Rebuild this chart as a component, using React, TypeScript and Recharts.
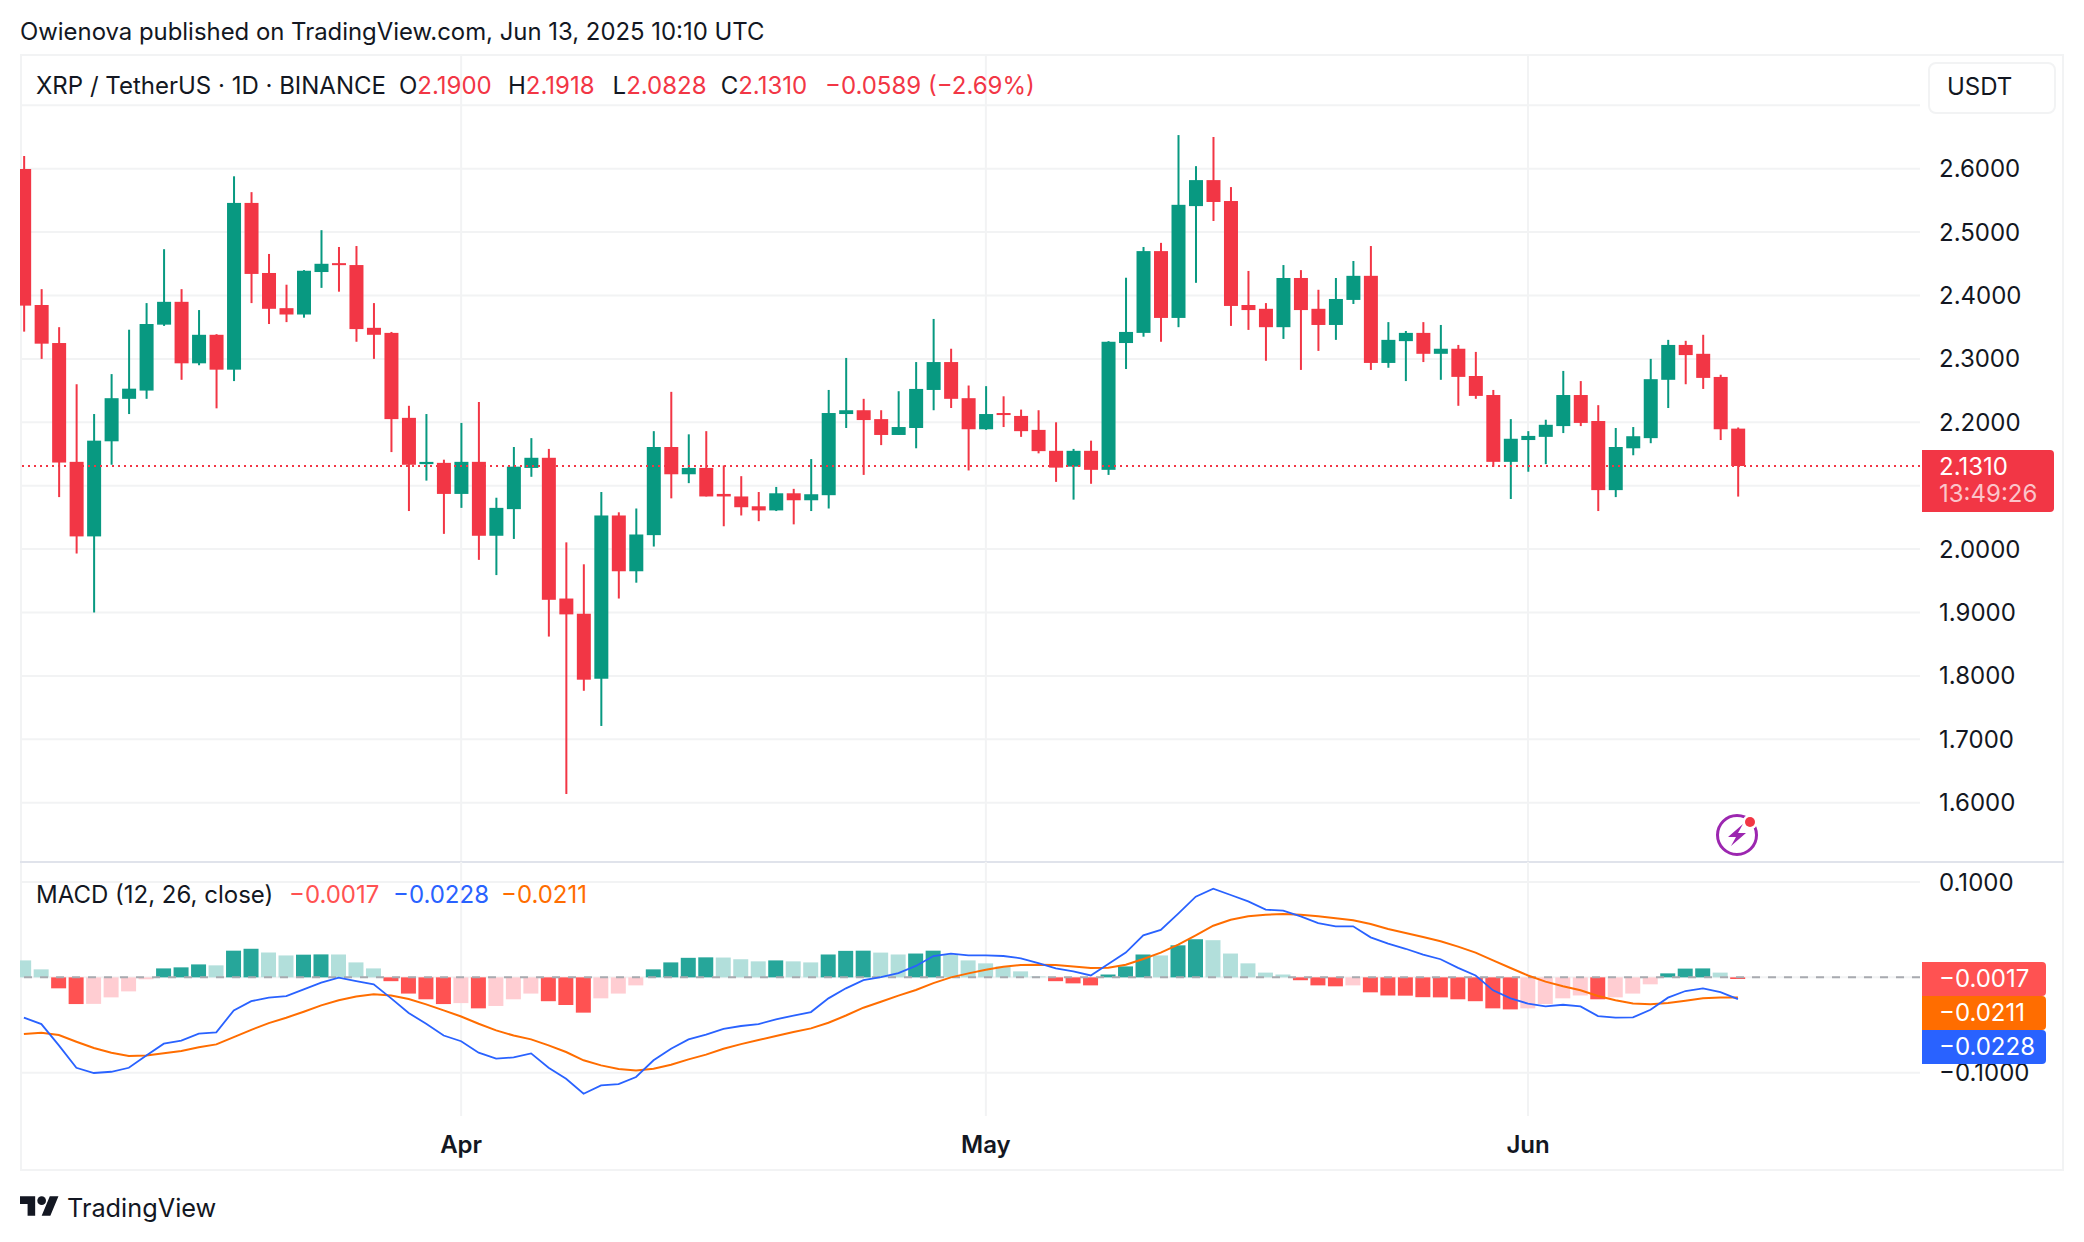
import React from "react";
import {
  Bar,
  CartesianGrid,
  Cell,
  ComposedChart,
  Line,
  ReferenceLine,
  XAxis,
  YAxis,
} from "recharts";

// daily candles, Mar 7 -> Jun 13
const opens = [
  2.5995, 2.385, 2.325, 2.1376, 2.02, 2.17, 2.237, 2.25, 2.354, 2.39, 2.293, 2.338, 2.283, 2.546, 2.4355, 2.38, 2.37, 2.437, 2.451, 2.448, 2.349, 2.341, 2.207, 2.134, 2.136,
  2.087, 2.1376, 2.021, 2.063, 2.128, 2.144, 1.922, 1.898, 1.7955, 2.053, 1.965, 2.022, 2.161, 2.118, 2.128, 2.087, 2.083, 2.0675, 2.061, 2.088, 2.077, 2.085, 2.213, 2.219, 2.205, 2.18, 2.191, 2.251, 2.295, 2.238,
  2.189, 2.2146, 2.21, 2.188, 2.155, 2.13, 2.155, 2.125, 2.325, 2.341, 2.47, 2.3646, 2.541, 2.582, 2.549, 2.385, 2.379, 2.35, 2.4276, 2.379, 2.3535, 2.393, 2.431, 2.2936, 2.328, 2.341, 2.308, 2.316, 2.273, 2.243, 2.1376,
  2.172, 2.177, 2.194, 2.243, 2.202, 2.093, 2.159, 2.175, 2.267, 2.322, 2.308, 2.2715, 2.19,
];
const highs = [
  2.62, 2.41, 2.35, 2.26, 2.213, 2.276, 2.346, 2.388, 2.473, 2.41, 2.377, 2.339, 2.588, 2.563, 2.4655, 2.417, 2.44, 2.503, 2.4765, 2.478, 2.388, 2.3425, 2.226, 2.213, 2.141,
  2.199, 2.232, 2.081, 2.161, 2.175, 2.158, 2.0106, 1.976, 2.09, 2.058, 2.064, 2.186, 2.248, 2.181, 2.186, 2.132, 2.115, 2.09, 2.098, 2.095, 2.142, 2.251, 2.3015, 2.237, 2.219, 2.249, 2.295, 2.363, 2.316, 2.258,
  2.257, 2.241, 2.22, 2.219, 2.2, 2.158, 2.171, 2.328, 2.428, 2.4765, 2.483, 2.653, 2.604, 2.65, 2.571, 2.4387, 2.388, 2.448, 2.44, 2.409, 2.4276, 2.4544, 2.478, 2.358, 2.344, 2.358, 2.3535, 2.322, 2.311, 2.251, 2.205,
  2.186, 2.204, 2.281, 2.265, 2.227, 2.191, 2.1925, 2.3, 2.33, 2.3285, 2.338, 2.275, 2.1918,
];
const lows = [
  2.343, 2.3, 2.082, 1.993, 1.9, 2.133, 2.213, 2.237, 2.352, 2.267, 2.29, 2.222, 2.265, 2.388, 2.355, 2.358, 2.365, 2.412, 2.406, 2.327, 2.3, 2.153, 2.06, 2.108, 2.024,
  2.065, 1.983, 1.959, 2.016, 2.114, 1.862, 1.6137, 1.7765, 1.721, 1.922, 1.947, 2.004, 2.08, 2.104, 2.083, 2.036, 2.053, 2.044, 2.06, 2.039, 2.06, 2.064, 2.191, 2.117, 2.164, 2.18, 2.159, 2.219, 2.2225, 2.124,
  2.188, 2.1925, 2.177, 2.151, 2.106, 2.078, 2.103, 2.117, 2.284, 2.335, 2.327, 2.35, 2.42, 2.5175, 2.352, 2.3457, 2.297, 2.3315, 2.2826, 2.3126, 2.33, 2.3866, 2.2826, 2.286, 2.265, 2.295, 2.267, 2.226, 2.237, 2.13, 2.079,
  2.122, 2.134, 2.183, 2.194, 2.06, 2.082, 2.148, 2.167, 2.2225, 2.26, 2.2526, 2.172, 2.0828,
];
const closes = [
  2.384, 2.324, 2.1365, 2.02, 2.171, 2.238, 2.253, 2.355, 2.39, 2.293, 2.338, 2.283, 2.546, 2.434, 2.379, 2.37, 2.439, 2.45, 2.448, 2.347, 2.338, 2.205, 2.133, 2.1375, 2.087,
  2.1376, 2.021, 2.065, 2.13, 2.144, 1.92, 1.897, 1.794, 2.053, 1.965, 2.023, 2.161, 2.118, 2.128, 2.083, 2.083, 2.066, 2.061, 2.088, 2.077, 2.0865, 2.2146, 2.219, 2.2035, 2.18, 2.1925, 2.2526, 2.295, 2.237, 2.189,
  2.213, 2.2114, 2.186, 2.1545, 2.1285, 2.155, 2.125, 2.327, 2.3425, 2.47, 2.3646, 2.543, 2.582, 2.5475, 2.3835, 2.377, 2.35, 2.4276, 2.377, 2.3535, 2.3945, 2.431, 2.2936, 2.33, 2.341, 2.308, 2.316, 2.2716, 2.2416, 2.1376, 2.174,
  2.1785, 2.196, 2.243, 2.199, 2.093, 2.161, 2.178, 2.268, 2.322, 2.306, 2.27, 2.189, 2.131,
];

const histogram = [
  0.0178, 0.0084, -0.0115, -0.028, -0.0278, -0.021, -0.0147, -0.002, 0.0094, 0.0105, 0.0136, 0.0126, 0.028, 0.03, 0.026, 0.023, 0.0238, 0.0241, 0.024, 0.0157, 0.0094, -0.004, -0.017, -0.023, -0.028,
  -0.027, -0.0325, -0.03, -0.023, -0.017, -0.025, -0.029, -0.037, -0.022, -0.017, -0.0084, 0.0084, 0.0157, 0.0205, 0.021, 0.0208, 0.019, 0.0168, 0.0178, 0.0168, 0.0157, 0.024, 0.0278, 0.028, 0.026, 0.024, 0.025, 0.028, 0.024, 0.0178,
  0.0147, 0.0115, 0.0063, 0.001, -0.004, -0.0063, -0.0084, 0.003, 0.0115, 0.024, 0.023, 0.0336, 0.04, 0.039, 0.025, 0.0147, 0.005, 0.003, -0.003, -0.0084, -0.0094, -0.0084, -0.0157, -0.019, -0.0192, -0.0208, -0.021, -0.023, -0.025, -0.0325, -0.0336,
  -0.0325, -0.028, -0.022, -0.019, -0.023, -0.021, -0.017, -0.0073, 0.0042, 0.0092, 0.0094, 0.005, -0.0017,
];
const macdLine = [
  -0.0423, -0.049, -0.0713, -0.0948, -0.1003, -0.099, -0.0948, -0.082, -0.0696, -0.0664, -0.059, -0.0577, -0.0346, -0.025, -0.0213, -0.0196, -0.0126, -0.0056, -0.0003, -0.004, -0.0073, -0.022, -0.0374, -0.0486, -0.061,
  -0.067, -0.079, -0.0853, -0.084, -0.0797, -0.0948, -0.1063, -0.122, -0.1133, -0.112, -0.1045, -0.087, -0.0748, -0.065, -0.06, -0.054, -0.051, -0.049, -0.044, -0.04, -0.0364, -0.022, -0.0115, -0.003, 0.0003, 0.0045, 0.012, 0.0224, 0.025, 0.023,
  0.023, 0.0224, 0.02, 0.015, 0.0094, 0.0063, 0.002, 0.014, 0.026, 0.044, 0.0497, 0.0668, 0.0846, 0.093, 0.0864, 0.0797, 0.071, 0.07, 0.064, 0.057, 0.0535, 0.0535, 0.042, 0.0353, 0.03, 0.0238, 0.019, 0.01, 0.002, -0.0136, -0.022,
  -0.0276, -0.0304, -0.0287, -0.0304, -0.0406, -0.0423, -0.042, -0.034, -0.0213, -0.0143, -0.0115, -0.0154, -0.0228,
];
const signalLine = [
  -0.0594, -0.058, -0.0605, -0.0675, -0.0741, -0.079, -0.0825, -0.082, -0.0797, -0.0773, -0.0734, -0.0703, -0.0626, -0.055, -0.048, -0.0423, -0.036, -0.0294, -0.024, -0.02, -0.0178, -0.019, -0.0227, -0.0283, -0.0346,
  -0.041, -0.0486, -0.0556, -0.061, -0.065, -0.0713, -0.0783, -0.087, -0.0923, -0.096, -0.0976, -0.0958, -0.0916, -0.086, -0.081, -0.0748, -0.07, -0.0657, -0.0615, -0.0573, -0.0535, -0.0476, -0.04, -0.0318, -0.0255, -0.0192, -0.0133, -0.006, 0, 0.0042,
  0.008, 0.0112, 0.013, 0.0133, 0.013, 0.0115, 0.0098, 0.0101, 0.0133, 0.0192, 0.0259, 0.0343, 0.044, 0.0542, 0.0605, 0.064, 0.0657, 0.0664, 0.0657, 0.064, 0.0619, 0.06, 0.056, 0.0507, 0.0465, 0.0423, 0.0378, 0.0322, 0.0259, 0.0178, 0.0098,
  0.002, -0.0045, -0.0094, -0.0136, -0.0196, -0.024, -0.0273, -0.0283, -0.027, -0.0245, -0.022, -0.021, -0.0211,
];

const priceTicks = [1.6, 1.7, 1.8, 1.9, 2.0, 2.1, 2.2, 2.3, 2.4, 2.5, 2.6, 2.7];
// grid lines only: 2.1 sits under the last price tag, 2.7 under the currency button
const priceNoLabel = [2.1, 2.7];
const macdTicks = [-0.1, 0, 0.1];
const monthTicks = [25, 55, 86];
const monthLabels = ["Apr", "May", "Jun"];

const rows = closes.map((close, i) => ({
  i,
  open: opens[i],
  high: highs[i],
  low: lows[i],
  close,
  hist: histogram[i],
  macd: macdLine[i],
  signal: signalLine[i],
}));

const UP = "#089981";
const DOWN = "#F23645";
const GRID = "#F2F3F4";
const INK = "#131722";
const FONT = "Inter, sans-serif";
const xDomain = [-0.223, 108.41];

function histColor(i: number) {
  const h = histogram[i];
  const prev = i > 0 ? histogram[i - 1] : h;
  if (h >= 0) return h > prev ? "#26A69A" : "#B2DFDB";
  return h < prev ? "#FF5252" : "#FFCDD2";
}

function Candle(props: any) {
  const { x, y, width, height, payload } = props;
  const k = height / (payload.high - payload.low);
  const top = y + (payload.high - Math.max(payload.open, payload.close)) * k;
  const bottom = y + (payload.high - Math.min(payload.open, payload.close)) * k;
  const color = payload.close >= payload.open ? UP : DOWN;
  const mid = x + width / 2;
  return (
    <g>
      <rect x={mid - 1} y={y} width={2} height={height} fill={color} />
      <rect x={x} y={top} width={width} height={Math.max(bottom - top, 2)} fill={color} />
    </g>
  );
}

function Txt({ x, y, size = 24, color = INK, weight = 400, children }: any) {
  return (
    <div
      style={{
        position: "absolute",
        left: x,
        top: y,
        transform: "translateY(-50%)",
        fontSize: size,
        lineHeight: 1,
        color,
        fontWeight: weight,
        fontFamily: FONT,
        whiteSpace: "nowrap",
      }}
    >
      {children}
    </div>
  );
}

function Tag({ y, height, width, color }: any) {
  return (
    <div
      style={{
        position: "absolute",
        left: 1922,
        top: y,
        width,
        height,
        background: color,
        borderRadius: "0 4px 4px 0",
      }}
    />
  );
}

const fmt = (v: number) => (v < 0 ? "\u2212" : "") + Math.abs(v).toFixed(4);

export default function App() {
  return (
    <div
      style={{
        position: "absolute",
        left: 0,
        top: 0,
        width: 2084,
        height: 1242,
        background: "#fff",
        overflow: "hidden",
      }}
    >
      <Txt x={20} y={32} size={23.9}>Owienova published on TradingView.com, Jun 13, 2025 10:10 UTC</Txt>

      {/* pane frame */}
      <div
        style={{
          position: "absolute",
          left: 20,
          top: 54,
          width: 2044,
          height: 1117,
          border: `2px solid ${GRID}`,
          boxSizing: "border-box",
        }}
      />

      <div style={{ position: "absolute", left: 20, top: 54 }}>
        <ComposedChart
          width={2044}
          height={807}
          data={rows}
          margin={{ top: 0, right: 0, bottom: 0, left: 0 }}
        >
          <CartesianGrid stroke={GRID} strokeWidth={2} syncWithTicks />
          <XAxis
            hide
            dataKey="i"
            type="number"
            domain={xDomain}
            allowDataOverflow
            ticks={monthTicks}
          />
          <YAxis
            orientation="right"
            width={144}
            domain={[1.508, 2.7809]}
            allowDataOverflow
            ticks={priceTicks}
            interval={0}
            axisLine={false}
            tickLine={false}
            tickSize={0}
            tickMargin={19}
            tick={{ fill: INK, fontSize: 24, fontFamily: FONT }}
            tickFormatter={(v: number) => (priceNoLabel.includes(v) ? "" : fmt(v))}
          />
          <Bar
            dataKey={(d: any) => [d.low, d.high]}
            barSize={14}
            shape={Candle}
            isAnimationActive={false}
          />
          <ReferenceLine
            y={closes[closes.length - 1]}
            stroke={DOWN}
            strokeWidth={2}
            strokeDasharray="2 4"
          />
        </ComposedChart>
      </div>

      <div style={{ position: "absolute", left: 20, top: 861, width: 2044, height: 2, background: "#E0E3EB" }} />

      <div style={{ position: "absolute", left: 20, top: 862 }}>
        <ComposedChart
          width={2044}
          height={309}
          data={rows}
          margin={{ top: 0, right: 0, bottom: 0, left: 0 }}
        >
          <CartesianGrid stroke={GRID} strokeWidth={2} syncWithTicks />
          <XAxis
            dataKey="i"
            type="number"
            domain={xDomain}
            allowDataOverflow
            ticks={monthTicks}
            interval={0}
            height={55}
            axisLine={false}
            tickLine={false}
            tickSize={0}
            tickMargin={20}
            tick={{ fill: INK, fontSize: 24, fontWeight: 600, fontFamily: FONT }}
            tickFormatter={(v: number) => monthLabels[monthTicks.indexOf(v)]}
          />
          <YAxis
            orientation="right"
            width={144}
            domain={[-0.1454, 0.121]}
            allowDataOverflow
            ticks={macdTicks}
            interval={0}
            axisLine={false}
            tickLine={false}
            tickSize={0}
            tickMargin={19}
            tick={{ fill: INK, fontSize: 24, fontFamily: FONT }}
            tickFormatter={(v: number) => (v === 0 ? "" : fmt(v))}
          />
          <Bar dataKey="hist" barSize={15} isAnimationActive={false}>
            {rows.map((r) => (
              <Cell key={r.i} fill={histColor(r.i)} />
            ))}
          </Bar>
          <ReferenceLine y={0} stroke="#A8AAB0" strokeWidth={2} strokeDasharray="8 8" />
          <Line dataKey="signal" stroke="#FF6D00" strokeWidth={2} dot={false} isAnimationActive={false} />
          <Line dataKey="macd" stroke="#2962FF" strokeWidth={1.8} dot={false} isAnimationActive={false} />
        </ComposedChart>
      </div>

      {/* legend lines */}
      <Txt x={36} y={86}>XRP / TetherUS · 1D · BINANCE</Txt>
      <Txt x={399} y={86}>O<span style={{ color: DOWN }}>2.1900</span></Txt>
      <Txt x={508} y={86}>H<span style={{ color: DOWN }}>2.1918</span></Txt>
      <Txt x={612.6} y={86}>L<span style={{ color: DOWN }}>2.0828</span></Txt>
      <Txt x={720.7} y={86}>C<span style={{ color: DOWN }}>2.1310</span></Txt>
      <Txt x={825} y={86} color={DOWN}>{"\u22120.0589 (\u22122.69%)"}</Txt>

      <Txt x={36} y={895}>MACD (12, 26, close)</Txt>
      <Txt x={289} y={895} color="#FF5252">{fmt(histogram[histogram.length - 1])}</Txt>
      <Txt x={393} y={895} color="#2962FF">{fmt(macdLine[macdLine.length - 1])}</Txt>
      <Txt x={501} y={895} color="#FF6D00">{fmt(signalLine[signalLine.length - 1])}</Txt>

      {/* currency button */}
      <div
        style={{
          position: "absolute",
          left: 1928,
          top: 62,
          width: 128,
          height: 52,
          boxSizing: "border-box",
          background: "#fff",
          border: `2px solid ${GRID}`,
          borderRadius: 8,
        }}
      />
      <Txt x={1947} y={87}>USDT</Txt>

      {/* last value tags */}
      <Tag y={450} height={62} width={132} color={DOWN} />
      <Txt x={1939} y={467} color="#fff">2.1310</Txt>
      <Txt x={1939} y={494} color="#FBC4CA">13:49:26</Txt>
      <Tag y={962} height={34} width={124} color="#FF5252" />
      <Txt x={1939} y={979} color="#fff">{fmt(histogram[histogram.length - 1])}</Txt>
      <Tag y={996} height={34} width={124} color="#FF6D00" />
      <Txt x={1939} y={1013} color="#fff">{fmt(signalLine[signalLine.length - 1])}</Txt>
      <Tag y={1030} height={34} width={124} color="#2962FF" />
      <Txt x={1939} y={1047} color="#fff">{fmt(macdLine[macdLine.length - 1])}</Txt>

      {/* bolt badge */}
      <svg style={{ position: "absolute", left: 1712, top: 810 }} width={52} height={50} viewBox="0 0 52 50">
        <circle cx={25} cy={25} r={19.5} fill="none" stroke="#9C27B0" strokeWidth={3} />
        <path d="M31 14 L16 27 H24 L19 36 L34 23 H26 Z" fill="#9C27B0" />
        <circle cx={38} cy={12} r={7.5} fill="#fff" />
        <circle cx={38} cy={12} r={5} fill="#F23645" />
      </svg>

      {/* brand */}
      <svg style={{ position: "absolute", left: 20, top: 1192 }} width={39} height={26} viewBox="0 0 36 24">
        <path d="M14 22H7V11H0V4h14v18zM28 22h-8l7.5-18h8L28 22z" fill={INK} />
        <circle cx={20} cy={8} r={4} fill={INK} />
      </svg>
      <Txt x={67} y={1208} size={25.3}>TradingView</Txt>
    </div>
  );
}
